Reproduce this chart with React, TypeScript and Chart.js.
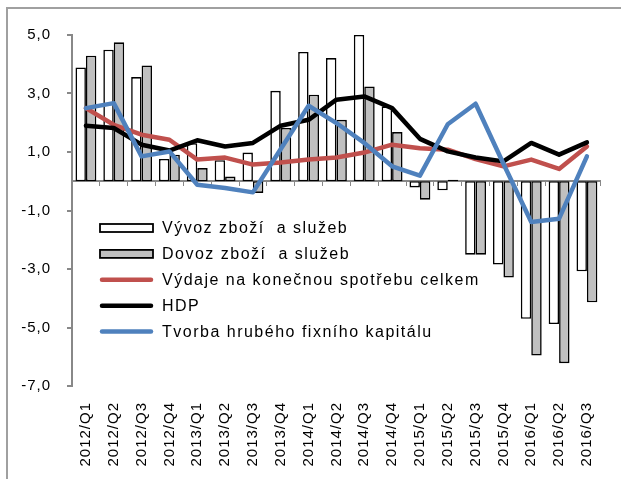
import React, { useEffect, useRef } from "react";
import { Chart, registerables } from "chart.js";

Chart.register(...registerables);

// ---- data ----
const categories = [
  "2012/Q1", "2012/Q2", "2012/Q3", "2012/Q4",
  "2013/Q1", "2013/Q2", "2013/Q3", "2013/Q4",
  "2014/Q1", "2014/Q2", "2014/Q3", "2014/Q4",
  "2015/Q1", "2015/Q2", "2015/Q3", "2015/Q4",
  "2016/Q1", "2016/Q2", "2016/Q3",
];

const vyvoz = [3.89, 4.5, 3.56, 0.76, 1.3, 0.72, 0.98, 3.09, 4.42, 4.21, 5.0, 2.56, -0.21, -0.31, -2.51, -2.85, -4.7, -4.88, -3.08];
const dovoz = [4.29, 4.75, 3.96, 0.91, 0.45, 0.16, -0.4, 1.82, 2.96, 2.1, 3.24, 1.68, -0.63, 0.05, -2.51, -3.29, -5.96, -6.22, -4.14];
const vydaje = [2.5, 1.93, 1.59, 1.42, 0.74, 0.81, 0.57, 0.64, 0.74, 0.81, 0.98, 1.25, 1.13, 1.08, 0.76, 0.51, 0.74, 0.42, 1.19];
const hdp = [1.9, 1.82, 1.25, 1.05, 1.4, 1.19, 1.31, 1.9, 2.1, 2.79, 2.9, 2.5, 1.45, 1.02, 0.81, 0.68, 1.31, 0.91, 1.33];
const tvorba = [2.5, 2.67, 0.85, 1.02, -0.12, -0.23, -0.38, 1.1, 2.58, 1.99, 1.31, 0.51, 0.19, 1.95, 2.65, 0.6, -1.39, -1.28, 0.85];

const seriesLabels = [
  "Vývoz zboží  a služeb",
  "Dovoz zboží  a služeb",
  "Výdaje na konečnou spotřebu celkem",
  "HDP",
  "Tvorba hrubého fixního kapitálu",
];

const yMin = -7;
const yMax = 5;
const yStep = 2;

const FONT = '"Liberation Sans", Arial, Helvetica, sans-serif';

const spacingPlugin = {
  id: "spacing",
  beforeDraw(chart: any) {
    (chart.ctx as any).letterSpacing = "1px";
  },
};

const legendPlugin = {
  id: "customLegend",
  afterDraw(chart: any) {
    const ctx = chart.ctx;
    const area = chart.chartArea;
    const x0 = area.left + 28;
    const y0 = area.top + 193;
    ctx.save();
    (ctx as any).letterSpacing = "1.5px";
    ctx.font = `16px ${FONT}`;
    ctx.textBaseline = "middle";
    ctx.textAlign = "left";
    chart.data.datasets.forEach((ds: any, i: number) => {
      const y = y0 + i * 25.9;
      if (ds.type === "bar") {
        ctx.fillStyle = ds.backgroundColor;
        ctx.fillRect(x0, y - 4, 53, 8);
        ctx.lineWidth = 1.8;
        ctx.strokeStyle = "#000";
        ctx.strokeRect(x0, y - 4, 53, 8);
      } else {
        ctx.beginPath();
        ctx.moveTo(x0 + 2, y);
        ctx.lineTo(x0 + 51, y);
        ctx.lineWidth = 4.5;
        ctx.lineCap = "round";
        ctx.strokeStyle = ds.borderColor;
        ctx.stroke();
      }
      ctx.fillStyle = "#000";
      ctx.fillText(ds.label, x0 + 62, y + 1);
    });
    ctx.restore();
  },
};

export default function App() {
  const ref = useRef<HTMLCanvasElement | null>(null);

  useEffect(() => {
    if (!ref.current) return;
    const lineBase = {
      type: "line" as const,
      borderWidth: 4.5,
      pointRadius: 0,
      pointHoverRadius: 0,
      tension: 0,
      fill: false,
      borderJoinStyle: "round" as const,
      borderCapStyle: "round" as const,
      xAxisID: "x",
      yAxisID: "y",
    };
    const chart = new Chart(ref.current, {
      type: "bar",
      data: {
        labels: categories,
        datasets: [
          {
            type: "bar",
            label: seriesLabels[0],
            data: vyvoz,
            backgroundColor: "#ffffff",
            borderColor: "#000000",
            borderWidth: 1.6,
            borderSkipped: false,
            categoryPercentage: 0.75,
            barPercentage: 1.0,
            order: 3,
          },
          {
            type: "bar",
            label: seriesLabels[1],
            data: dovoz,
            backgroundColor: "#c0c0c0",
            borderColor: "#000000",
            borderWidth: 1.6,
            borderSkipped: false,
            categoryPercentage: 0.75,
            barPercentage: 1.0,
            order: 4,
          },
          { ...lineBase, label: seriesLabels[2], data: vydaje, borderColor: "#c0504d", order: 2 },
          { ...lineBase, label: seriesLabels[3], data: hdp, borderColor: "#000000", order: 1 },
          { ...lineBase, label: seriesLabels[4], data: tvorba, borderColor: "#4f81bd", order: 0 },
        ] as any,
      },
      options: {
        responsive: false,
        animation: false,
        devicePixelRatio: 1,
        layout: { padding: { top: 35, right: 3, left: 0, bottom: 0 } },
        plugins: {
          legend: { display: false },
          tooltip: { enabled: false },
          title: { display: false },
        },
        scales: {
          x: {
            type: "category",
            position: "bottom",
            offset: true,
            grid: { display: false, drawTicks: false },
            border: { display: false },
            ticks: {
              autoSkip: false,
              minRotation: 90,
              maxRotation: 90,
              padding: 16,
              color: "#000",
              font: { family: FONT, size: 15 },
            },
            afterFit: (s: any) => {
              s.height = 93;
            },
          },
          x2: {
            type: "category",
            labels: categories,
            position: { y: 0 } as any,
            offset: true,
            grid: {
              display: true,
              drawOnChartArea: false,
              drawTicks: true,
              tickLength: 4,
              offset: true,
              color: "#888888",
              lineWidth: 1,
            },
            border: { display: true, color: "#888888", width: 2 },
            ticks: { display: false },
          },
          y: {
            type: "linear",
            position: "left",
            min: yMin,
            max: yMax,
            grid: {
              drawOnChartArea: false,
              drawTicks: true,
              tickLength: 5,
              color: "#888888",
              lineWidth: 2,
            },
            border: { display: true, color: "#888888", width: 2 },
            ticks: {
              stepSize: yStep,
              padding: 16,
              color: "#000",
              font: { family: FONT, size: 15 },
              callback: (v: any) => Number(v).toFixed(1).replace(".", ","),
            },
            afterFit: (s: any) => {
              s.width = 72;
            },
          },
        },
      } as any,
      plugins: [spacingPlugin, legendPlugin],
    });
    return () => chart.destroy();
  }, []);

  return (
    <div
      style={{
        position: "fixed",
        left: 0,
        top: 0,
        width: 621,
        height: 479,
        background: "#ffffff",
        overflow: "hidden",
      }}
    >
      <div
        style={{
          position: "absolute",
          left: 6,
          top: 7,
          width: 700,
          height: 600,
          borderTop: "2px solid #a0a0a0",
          borderLeft: "2px solid #a0a0a0",
        }}
      />
      <canvas
        ref={ref}
        width={621}
        height={479}
        style={{ position: "absolute", left: 0, top: 0, width: 621, height: 479 }}
      />
    </div>
  );
}
